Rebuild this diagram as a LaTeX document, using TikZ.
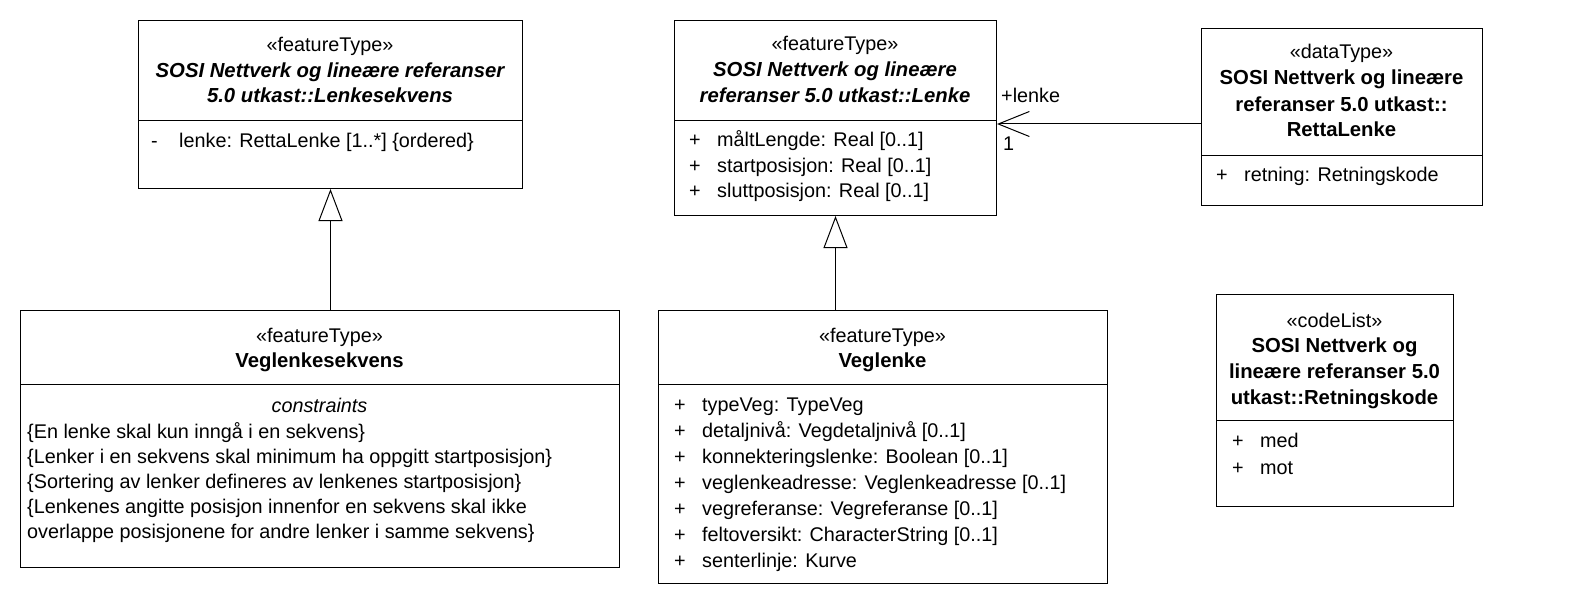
\documentclass[tikz,border=0pt]{standalone}
\usepackage{fontspec}
\setmainfont{Liberation Sans}
\usetikzlibrary{arrows.meta}

\newcommand{\umlskrift}{\fontsize{19.8}{25}\selectfont}
\newcommand{\navnskrift}{\fontsize{20.3}{25}\selectfont\bfseries}
\newcommand{\vis}[1]{\makebox[28pt][l]{#1}}

\tikzset{
	rute/.style={draw, line width=1pt, fill=white, inner sep=0pt, anchor=north west},
	tekst/.style={inner sep=0pt, anchor=base, font=\umlskrift},
	navn/.style={inner sep=0pt, anchor=base, font=\navnskrift},
	attr/.style={inner sep=0pt, anchor=base west, font=\umlskrift},
	gen/.style={-{Triangle[open, length=32pt, width=24pt]}, line width=1pt},
	assoc/.style={-{Straight Barb[length=31pt, width=25pt]}, line width=1pt},
}

\begin{document}
\begin{tikzpicture}[x=1pt, y=-1pt]
		\useasboundingbox (0,0) rectangle (1578,604);

		% Lenkesekvens
		\node[rute, minimum width=384pt, minimum height=100pt] (lsekH) at (138,20) {};
		\node[rute, minimum width=384pt, minimum height=68pt] (lsekB) at (138,120) {};
		\node[tekst] (lsekS) at (330,52) {«featureType»};
		\node[navn] (lsekN1) at (330,78) {\itshape SOSI Nettverk og lineære referanser};
		\node[navn] (lsekN2) at (330,103) {\itshape 5.0 utkast::Lenkesekvens};
		\node[attr] (lsekA1) at (151,148) {\vis{-}lenke: RettaLenke [1..*] \{ordered\}};

		% Lenke
		\node[rute, minimum width=322pt, minimum height=100pt] (lenkeH) at (674,20) {};
		\node[rute, minimum width=322pt, minimum height=95pt] (lenkeB) at (674,120) {};
		\node[tekst] (lenkeS) at (835,51) {«featureType»};
		\node[navn] (lenkeN1) at (835,77) {\itshape SOSI Nettverk og lineære};
		\node[navn] (lenkeN2) at (835,103) {\itshape referanser 5.0 utkast::Lenke};
		\foreach \t [count=\i] in {{måltLengde: Real [0..1]}, {startposisjon: Real [0..1]}, {sluttposisjon: Real [0..1]}}
			\node[attr] (lenkeA\i) at (689,{147+25*(\i-1)}) {\vis{+}\t};

		% RettaLenke
		\node[rute, minimum width=281pt, minimum height=127pt] (rettaH) at (1201,28) {};
		\node[rute, minimum width=281pt, minimum height=50pt] (rettaB) at (1201,155) {};
		\node[tekst] (rettaS) at (1341.5,59) {«dataType»};
		\node[navn] (rettaN1) at (1341.5,85) {SOSI Nettverk og lineære};
		\node[navn] (rettaN2) at (1341.5,112) {referanser 5.0 utkast::};
		\node[navn] (rettaN3) at (1341.5,137) {RettaLenke};
		\node[attr] (rettaA1) at (1216,182) {\vis{+}retning: Retningskode};

		% Veglenkesekvens
		\node[rute, minimum width=599pt, minimum height=74pt] (vsekH) at (20,310) {};
		\node[rute, minimum width=599pt, minimum height=183pt] (vsekB) at (20,384) {};
		\node[tekst] (vsekS) at (319.5,342) {«featureType»};
		\node[navn] (vsekN) at (319.5,367) {Veglenkesekvens};
		\node[tekst] (vsekC) at (319.5,412) {\itshape constraints};
		\foreach \t [count=\i] in {{\{En lenke skal kun inngå i en sekvens\}},
				{\{Lenker i en sekvens skal minimum ha oppgitt startposisjon\}},
				{\{Sortering av lenker defineres av lenkenes startposisjon\}},
				{\{Lenkenes angitte posisjon innenfor en sekvens skal ikke},
				{overlappe posisjonene for andre lenker i samme sekvens\}}}
			\node[attr] (vsekK\i) at (27,{438+25*(\i-1)}) {\t};

		% Veglenke
		\node[rute, minimum width=449pt, minimum height=74pt] (veglH) at (658,310) {};
		\node[rute, minimum width=449pt, minimum height=199pt] (veglB) at (658,384) {};
		\node[tekst] (veglS) at (882.5,342) {«featureType»};
		\node[navn] (veglN) at (882.5,367) {Veglenke};
		\foreach \t [count=\i] in {{typeVeg: TypeVeg}, {detaljnivå: Vegdetaljnivå [0..1]},
				{konnekteringslenke: Boolean [0..1]}, {veglenkeadresse: Veglenkeadresse [0..1]},
				{vegreferanse: Vegreferanse [0..1]}, {feltoversikt: CharacterString [0..1]},
				{senterlinje: Kurve}}
			\node[attr] (veglA\i) at (674,{411+26*(\i-1)}) {\vis{+}\t};

		% Retningskode
		\node[rute, minimum width=237pt, minimum height=126pt] (rkodeH) at (1216,294) {};
		\node[rute, minimum width=237pt, minimum height=86pt] (rkodeB) at (1216,420) {};
		\node[tekst] (rkodeS) at (1334.5,327) {«codeList»};
		\node[navn] (rkodeN1) at (1334.5,352) {SOSI Nettverk og};
		\node[navn] (rkodeN2) at (1334.5,378) {lineære referanser 5.0};
		\node[navn] (rkodeN3) at (1334.5,404) {utkast::Retningskode};
		\node[attr] (rkodeA1) at (1232,447) {\vis{+}med};
		\node[attr] (rkodeA2) at (1232,474) {\vis{+}mot};

		% arv
		\draw[gen] (lsekB.south |- vsekH.north) -- (lsekB.south); % Veglenkesekvens -> Lenkesekvens
		\draw[gen] (lenkeB.south |- veglH.north) -- (lenkeB.south); % Veglenke -> Lenke

		% assosiasjon RettaLenke -> Lenke
		\coordinate (lenkeEnde) at ([yshift=-4pt]lenkeB.north east);
		\draw[assoc] (rettaH.west |- lenkeEnde) -- (lenkeEnde);
		\node[attr] (rolle) at (1001,103) {+lenke};
		\node[attr] (mult) at (1003,151) {1};
	\end{tikzpicture}
\end{document}
